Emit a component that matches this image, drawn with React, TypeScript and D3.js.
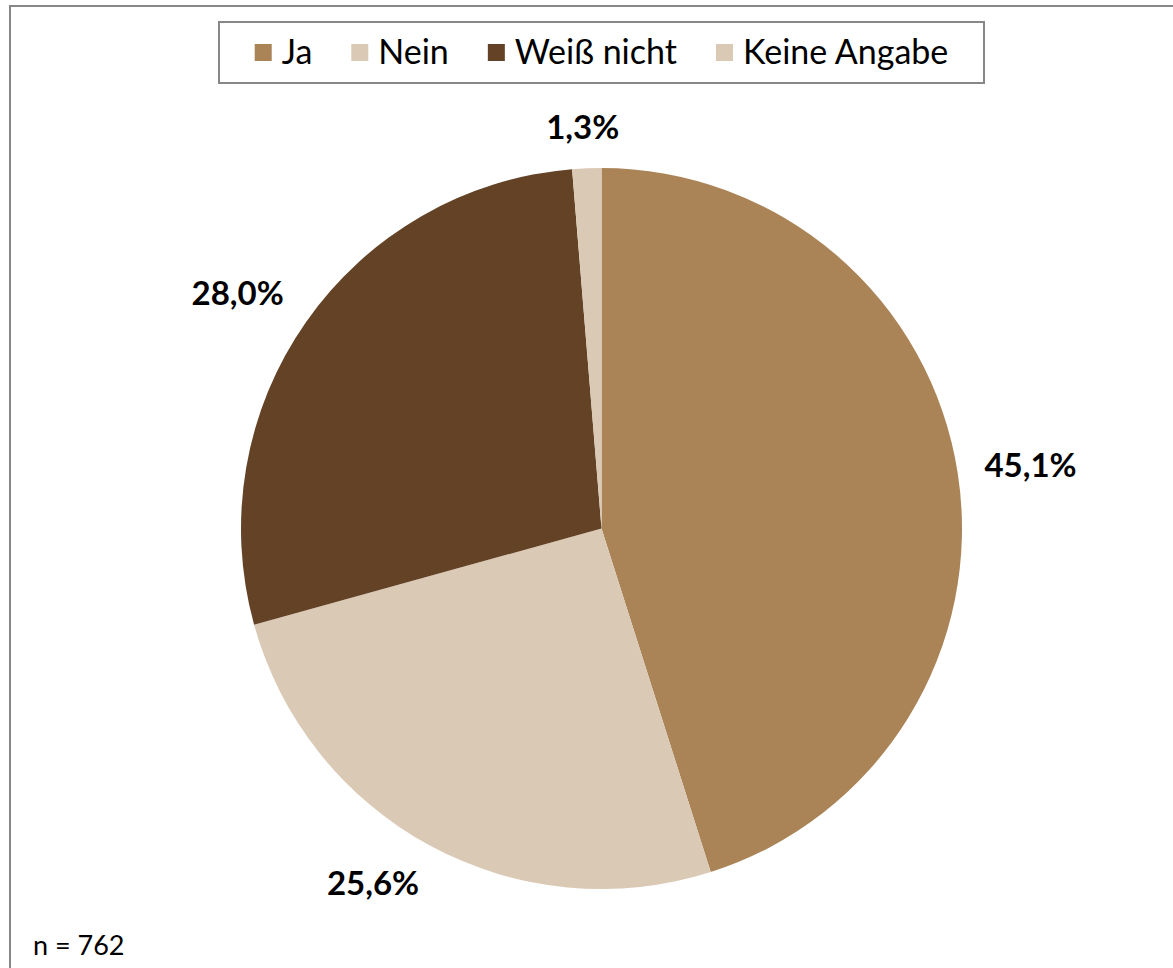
import React, { useEffect, useRef } from "react";
import * as d3 from "d3";

const categories = ["Ja", "Nein", "Weiß nicht", "Keine Angabe"];
const values = [45.1, 25.6, 28.0, 1.3];
const labels = ["45,1%", "25,6%", "28,0%", "1,3%"];
const colors = ["#AA8457", "#DAC9B4", "#634226", "#DAC9B4"];
const footnote = "n = 762";

const W = 1173;
const H = 968;

export default function App() {
  const ref = useRef<SVGSVGElement | null>(null);

  useEffect(() => {
    const svg = d3.select(ref.current);
    svg.selectAll("*").remove();

    svg.append("rect")
      .attr("x", 10).attr("y", 6)
      .attr("width", W + 20).attr("height", H + 20)
      .attr("fill", "#fff").attr("stroke", "#878787").attr("stroke-width", 2);

    const cx = 601.5, cy = 528.5, r = 360.5;
    const pie = d3.pie<number>().sort(null).value((d) => d);
    const arcs = pie(values);
    const arc = d3.arc<d3.PieArcDatum<number>>().innerRadius(0).outerRadius(r);

    const g = svg.append("g").attr("transform", `translate(${cx},${cy})`);
    g.selectAll("path").data(arcs).enter().append("path")
      .attr("d", arc as any)
      .attr("fill", (_, i) => colors[i]);

    const fontFam = "Lato, 'Open Sans', sans-serif";
    const lg = svg.append("g");
    const clamp = (v: number) => Math.max(-1, Math.min(1, v));
    arcs.forEach((a, i) => {
      const t = lg.append("text")
        .attr("font-family", fontFam)
        .attr("font-weight", 700)
        .attr("font-size", 33)
        .attr("fill", "#000")
        .attr("text-anchor", "middle")
        .text(labels[i]);
      const w = (t.node() as SVGTextElement).getComputedTextLength();
      const h = 28;
      const mid = (a.startAngle + a.endAngle) / 2;
      const ux = Math.sin(mid), uy = -Math.cos(mid);
      const d = r + 27;
      const x = cx + ux * d + clamp(ux * 2) * w / 2;
      const y = cy + uy * d + clamp(uy * 2) * h / 2;
      t.attr("x", x).attr("y", y + 12);
    });

    const legX = 219, legY = 22, legW = 765, legH = 61;
    svg.append("rect")
      .attr("x", legX).attr("y", legY).attr("width", legW).attr("height", legH)
      .attr("fill", "#fff").attr("stroke", "#878787").attr("stroke-width", 2);
    const items = svg.append("g");
    const sq = 17, gapText = 10, gapItem = 39;
    const widths: number[] = [];
    const texts = categories.map((c) => {
      const t = items.append("text")
        .attr("font-family", fontFam)
        .attr("font-size", 34)
        .attr("fill", "#000")
        .text(c);
      widths.push((t.node() as SVGTextElement).getComputedTextLength());
      return t;
    });
    const total = widths.reduce((s, w) => s + sq + gapText + w, 0) + gapItem * (categories.length - 1);
    let x = legX + (legW - total) / 2;
    categories.forEach((_, i) => {
      items.append("rect")
        .attr("x", x).attr("y", 44).attr("width", sq).attr("height", sq)
        .attr("fill", colors[i]);
      texts[i].attr("x", x + sq + gapText).attr("y", 64);
      x += sq + gapText + widths[i] + gapItem;
    });

    svg.append("text")
      .attr("x", 33).attr("y", 955)
      .attr("font-family", fontFam)
      .attr("font-size", 27)
      .attr("fill", "#000")
      .text(footnote);
  }, []);

  return (
    <div style={{ position: "fixed", left: 0, top: 0, width: W, height: H, overflow: "hidden", background: "#fff" }}>
      <svg ref={ref} width={W} height={H} style={{ display: "block" }} />
    </div>
  );
}
